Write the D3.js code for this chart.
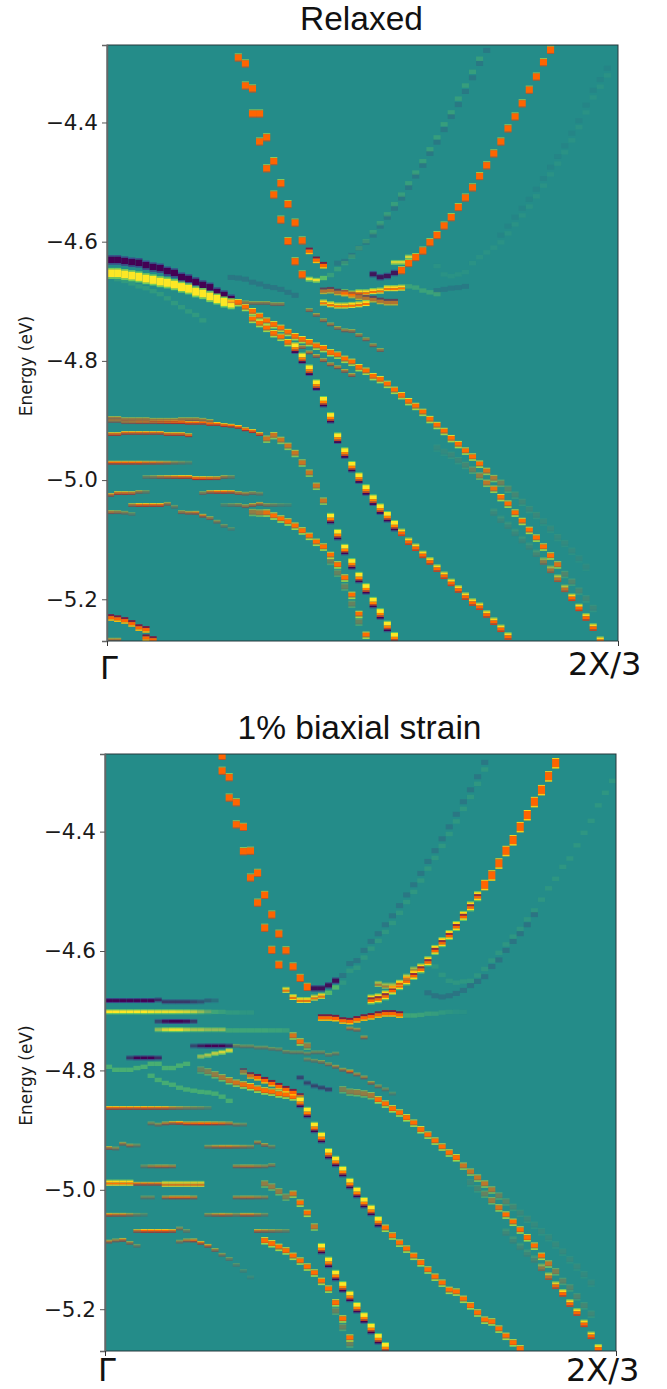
<!DOCTYPE html>
<html><head><meta charset="utf-8">
<script src="https://cdn.jsdelivr.net/npm/d3@7"></script>
<style>html,body{margin:0;padding:0;background:#fff;overflow:hidden}</style>
</head><body><svg id="fig" width="667" height="1389"></svg>
<script>
// ---- labels ----
const titles = ["Relaxed", "1% biaxial strain"];
const yTickValues = [-4.4, -4.6, -4.8, -5.0, -5.2];
const xTickLabels = ["\u0393", "2X/3"];
const energyRange = [-5.27, -4.27];
const columnCount = 72;

// ---- Relaxed panel: energies per k-column (eV) ----
const r01 = [-4.301,-4.343,-4.385,-4.425,-4.465,-4.502,-4.537,-4.568,-4.598];
const r01b = [-4.616,-4.631,-4.640];
const r02 = [-4.291,-4.338,-4.385,-4.432,-4.477,-4.521,-4.563,-4.599,-4.633,-4.655];
const r02y = [-4.663,-4.665];
const r02g = [-4.661,-4.656,-4.646,-4.636,-4.625,-4.611,-4.599,-4.584,-4.569,-4.554,-4.537,-4.521,-4.502,-4.484,-4.465,-4.445,-4.425,-4.403,-4.383,-4.360,-4.338,-4.315,-4.293];
const r03 = [-4.636,-4.633,-4.623,-4.611,-4.601,-4.589,-4.574,-4.559,-4.544,-4.527,-4.509,-4.490,-4.472,-4.452,-4.433,-4.412,-4.390,-4.370,-4.348,-4.325,-4.301,-4.279];
const r04 = [-4.648,-4.636,-4.626,-4.615,-4.601,-4.589,-4.573,-4.559,-4.542,-4.526,-4.509,-4.490,-4.472,-4.452,-4.432,-4.410,-4.390,-4.368,-4.345,-4.323,-4.299,-4.278];
const r04p = [-4.655,-4.660,-4.658,-4.653];
const r04u = [-4.635,-4.635,-4.626];
const r05 = [-4.685,-4.687,-4.685,-4.685,-4.683,-4.682,-4.678,-4.678,-4.677];
const r05g = [-4.675,-4.677,-4.682,-4.685,-4.688];
const r05d = [-4.683,-4.682,-4.685,-4.687,-4.690,-4.693,-4.695,-4.697,-4.700,-4.702,-4.702];
const r06 = [-4.702,-4.705,-4.707,-4.707,-4.706,-4.705,-4.703];
const r07p = [-4.631,-4.631,-4.633,-4.635,-4.636,-4.640,-4.643,-4.645,-4.650,-4.653,-4.660,-4.663,-4.668,-4.673,-4.677,-4.685,-4.690,-4.697];
const r07y = [-4.654,-4.654,-4.656,-4.658,-4.660,-4.663,-4.665,-4.668,-4.670,-4.673,-4.677,-4.680,-4.685,-4.688,-4.693,-4.697,-4.702,-4.705];
const r08 = [-4.702,-4.710,-4.717,-4.725,-4.733,-4.739,-4.745,-4.752,-4.759,-4.764,-4.769,-4.775,-4.779,-4.786,-4.790,-4.797,-4.802,-4.811,-4.817,-4.826,-4.831,-4.839,-4.849,-4.858,-4.868,-4.876,-4.886,-4.898,-4.908,-4.918,-4.930,-4.940,-4.951,-4.961,-4.973,-4.985,-4.997,-5.005,-5.015,-5.025,-5.037,-5.049,-5.059,-5.070,-5.082,-5.096,-5.106,-5.119,-5.132,-5.146];
const r09a = [-4.730,-4.737,-4.745,-4.754,-4.760,-4.769];
const r09b = [-4.779,-4.796,-4.816,-4.841,-4.869,-4.896,-4.930,-4.955,-4.978,-4.997,-5.017,-5.034,-5.049,-5.062,-5.077];
const r09c = [-5.089,-5.104,-5.114,-5.126,-5.137,-5.149,-5.161,-5.173,-5.184,-5.196,-5.206,-5.213,-5.226,-5.238,-5.250,-5.263];
const r10 = [-4.772,-4.777,-4.786,-4.792,-4.799,-4.806,-4.811,-4.817,-4.824];
const r11 = [-4.715,-4.723,-4.732,-4.739,-4.745,-4.749,-4.750,-4.757,-4.764,-4.774,-4.782];
const r12 = [-4.700,-4.702,-4.702,-4.703,-4.703,-4.703,-4.705,-4.705];
const r13 = [-4.660,-4.661,-4.663,-4.668,-4.671,-4.675,-4.677,-4.680,-4.685,-4.690];
const r14 = [-4.663,-4.666,-4.670,-4.675,-4.678,-4.683,-4.688,-4.695,-4.703,-4.710,-4.717,-4.723,-4.732];
const r15 = [-4.901,-4.901,-4.903,-4.903,-4.903,-4.903,-4.903,-4.903,-4.903,-4.903,-4.903,-4.904,-4.904,-4.904,-4.906,-4.906,-4.908,-4.909,-4.911,-4.915,-4.918,-4.923];
const r15b = [-4.931,-4.925,-4.933,-4.943,-4.955,-4.971,-4.988,-5.010,-5.035];
const r15c = [-5.065,-5.092,-5.117,-5.141,-5.164,-5.183,-5.206,-5.225,-5.246,-5.265];
const r16 = [-4.923,-4.923,-4.921,-4.921,-4.921,-4.921,-4.921,-4.921,-4.923,-4.923,-4.923,-4.925];
const r17 = [-4.896,-4.896,-4.898,-4.898,-4.898,-4.898,-4.899,-4.899,-4.899,-4.899,-4.898,-4.898,-4.898,-4.899,-4.901];
const r18 = [-4.971,-4.971,-4.971,-4.971,-4.971,-4.971,-4.971,-4.971,-4.971,-4.971,-4.971,-4.971];
const r19 = [-4.995,-4.995,-4.995,-4.995,-4.995,-4.995,-4.995,-4.997,-4.997,-4.997,-4.997,-4.995,-4.995];
const r20 = [-5.025,-5.022,-5.022,-5.022,-5.020,-5.020];
const r20b = [-5.022,-5.020,-5.020,-5.020,-5.020,-5.022,-5.023,-5.022,-5.023];
const r21 = [-5.042,-5.042,-5.042,-5.042,-5.042,-5.040,-5.045];
const r21b = [-5.042,-5.042,-5.042,-5.044,-5.042,-5.040,-5.042,-5.042,-5.042,-5.042];
const r22 = [-5.054,-5.054,-5.055,-5.057];
const r22b = [-5.054,-5.055,-5.055,-5.060,-5.064,-5.070,-5.077,-5.082];
const r23 = [-5.054,-5.055,-5.055,-5.060,-5.065,-5.070,-5.077,-5.085,-5.094,-5.104,-5.112,-5.126,-5.142,-5.164,-5.193,-5.225,-5.260];
const r23g = [-5.136,-5.156,-5.179,-5.208,-5.238];
const r24 = [-5.231,-5.233,-5.236,-5.241,-5.248,-5.251];
const r24b = [-5.265,-5.268];
const r24c = [-5.268,-5.268];
const r25 = [-4.641,-4.655,-4.658,-4.655,-4.651,-4.636,-4.626,-4.618,-4.610,-4.601,-4.586,-4.571,-4.556,-4.541,-4.524,-4.506,-4.487,-4.469,-4.450,-4.430,-4.408,-4.383,-4.358,-4.340,-4.321];
const r26a = [-4.682,-4.680,-4.678,-4.677,-4.675];
const r26b = [-4.589,-4.574,-4.559,-4.544,-4.529,-4.512,-4.494,-4.475,-4.457,-4.439,-4.418,-4.397,-4.371,-4.346,-4.328,-4.309];
const r27 = [-4.946,-4.953,-4.958,-4.967,-4.975,-4.983,-4.993,-5.005,-5.015,-5.029,-5.040,-5.055,-5.069,-5.084,-5.097,-5.112,-5.127,-5.142,-5.158,-5.171,-5.186,-5.199,-5.215];
const r28 = [-5.055,-5.067,-5.077,-5.089,-5.101,-5.112,-5.124,-5.137,-5.151,-5.166,-5.183,-5.198,-5.215,-5.231,-5.248,-5.270];

// ---- Strained panel: energies per k-column (eV) ----
const s01 = [-4.273,-4.309,-4.351,-4.392,-4.432,-4.469,-4.506,-4.539,-4.571,-4.599,-4.626,-4.645,-4.660];
const s01p = [-4.663,-4.663,-4.658,-4.650];
const s02 = [-4.298,-4.343,-4.388,-4.433,-4.477,-4.519,-4.561,-4.598,-4.623];
const s02y = [-4.665,-4.677,-4.682,-4.682,-4.678,-4.675];
const s02g = [-4.670,-4.661];
const s03p = [-4.641,-4.621,-4.616,-4.599,-4.584,-4.571,-4.556,-4.541,-4.524,-4.506,-4.489,-4.470,-4.450,-4.432,-4.412,-4.392,-4.371,-4.350,-4.330,-4.308,-4.284];
const s03g = [-4.653,-4.633,-4.628,-4.611,-4.596,-4.583,-4.568,-4.553,-4.536,-4.518,-4.501,-4.482,-4.462,-4.444,-4.424,-4.404,-4.383,-4.362,-4.342,-4.320,-4.296];
const s04a = [-4.682,-4.680,-4.675,-4.666,-4.658,-4.650,-4.641,-4.630,-4.618,-4.599,-4.586,-4.574,-4.559,-4.542,-4.526,-4.509];
const s04b = [-4.490,-4.474,-4.454,-4.433,-4.415,-4.393,-4.373,-4.351,-4.331,-4.308,-4.286];
const s04u = [-4.655,-4.658,-4.658,-4.653,-4.643,-4.631];
const s05 = [-4.626,-4.640,-4.650,-4.653,-4.651,-4.650,-4.641,-4.630,-4.616,-4.603,-4.589,-4.576,-4.563,-4.547,-4.532,-4.514,-4.495,-4.479,-4.459,-4.445,-4.423,-4.402,-4.382,-4.356,-4.335,-4.315];
const s06 = [-4.670,-4.675,-4.677,-4.675,-4.671,-4.666,-4.658,-4.651,-4.643,-4.626,-4.615,-4.599,-4.584,-4.571,-4.556,-4.539];
const s07 = [-4.683,-4.683,-4.683,-4.683,-4.683,-4.683,-4.683,-4.682,-4.685,-4.685,-4.685,-4.685,-4.685,-4.685,-4.683,-4.683];
const s08 = [-4.702,-4.702,-4.702,-4.702,-4.702,-4.702,-4.702,-4.702,-4.702,-4.702,-4.702,-4.702,-4.702,-4.702,-4.702];
const s08g = [-4.702,-4.702,-4.703,-4.703,-4.703,-4.703];
const s09 = [-4.718,-4.718,-4.718,-4.718,-4.718,-4.718];
const s10 = [-4.732,-4.732,-4.732,-4.732,-4.732,-4.732,-4.732,-4.732,-4.732,-4.732];
const s10g = [-4.733,-4.733,-4.733,-4.733,-4.733,-4.733,-4.733,-4.733,-4.733];
const s11 = [-4.759,-4.759,-4.759,-4.759,-4.759,-4.759];
const s12 = [-4.777,-4.775,-4.772,-4.770,-4.767];
const s13 = [-4.779,-4.779,-4.779,-4.779,-4.779];
const s14 = [-4.794,-4.799,-4.799,-4.799,-4.796,-4.794,-4.789,-4.789,-4.796,-4.796,-4.792,-4.789];
const s15 = [-4.809,-4.816,-4.821,-4.824,-4.829,-4.832,-4.834,-4.836,-4.837,-4.839,-4.844,-4.851];
const s16 = [-4.799,-4.802,-4.807,-4.812,-4.817,-4.821,-4.824,-4.827,-4.831,-4.834,-4.836,-4.839,-4.841,-4.844];
const s17 = [-4.802,-4.809,-4.812,-4.817,-4.822,-4.827,-4.832,-4.837,-4.844];
const s18a = [-4.854,-4.871,-4.896,-4.913,-4.940,-4.953,-4.970,-4.990,-5.005,-5.022,-5.035,-5.054];
const s18b = [-5.064,-5.077,-5.089,-5.099,-5.111,-5.122,-5.134,-5.146,-5.156,-5.168,-5.171,-5.183,-5.194,-5.206,-5.218,-5.221,-5.233,-5.245,-5.256,-5.266];
const s19 = [-4.832,-4.836,-4.837,-4.839,-4.842,-4.849,-4.856,-4.864,-4.871,-4.879,-4.888,-4.899,-4.908,-4.918,-4.928,-4.938,-4.946,-4.960,-4.970,-4.980,-4.990,-5.000,-5.010,-5.020,-5.029,-5.039,-5.049,-5.059,-5.070,-5.080,-5.092,-5.104,-5.117,-5.129,-5.142,-5.156];
const s20 = [-4.782,-4.784,-4.786,-4.790,-4.794,-4.799,-4.802,-4.807,-4.812,-4.821,-4.827,-4.832,-4.839];
const s21 = [-4.742,-4.752,-4.759];
const s22 = [-4.988,-4.998,-5.007,-5.018,-5.030,-5.042,-5.054,-5.067,-5.080,-5.094,-5.111,-5.124,-5.137,-5.153,-5.164,-5.179,-5.194,-5.208];
const s23 = [-5.072,-5.085,-5.096,-5.107,-5.117,-5.131,-5.146,-5.161,-5.174,-5.191,-5.206,-5.225,-5.245,-5.266];
const s24 = [-5.099,-5.122,-5.144,-5.163,-5.179,-5.198,-5.215,-5.233,-5.250,-5.265];
const s24b = [-4.990,-4.995,-5.003,-5.012,-5.007,-5.022,-5.039,-5.062];
const s25 = [-5.085,-5.090,-5.096,-5.102,-5.111,-5.119,-5.129,-5.139,-5.153,-5.166,-5.189,-5.216,-5.248];
const s25g = [-5.203,-5.230,-5.258];
const s26 = [-4.863,-4.863,-4.863,-4.863,-4.863,-4.863,-4.863,-4.863,-4.863,-4.863,-4.863,-4.863,-4.863,-4.863,-4.863];
const s27 = [-4.889,-4.891,-4.889,-4.888,-4.888,-4.889,-4.889,-4.889,-4.889,-4.889,-4.889,-4.889,-4.891,-4.891];
const s28 = [-4.930,-4.931,-4.923,-4.926,-4.926];
const s28b = [-4.928,-4.928,-4.928,-4.928,-4.928,-4.928,-4.928,-4.921,-4.925,-4.928];
const s29 = [-4.961,-4.961,-4.961,-4.961,-4.961];
const s29b = [-4.961,-4.961,-4.961,-4.961,-4.961,-4.959];
const s30 = [-4.988,-4.988,-4.988,-4.988];
const s30b = [-4.990,-4.990,-4.990,-4.990];
const s30c = [-4.990,-4.990,-4.990,-4.990,-4.990,-4.990];
const s31 = [-5.013,-5.013];
const s31b = [-5.013,-5.013,-5.013,-5.013,-5.013];
const s31c = [-5.013,-5.013,-5.013,-5.013,-5.013];
const s32 = [-5.042,-5.042,-5.042,-5.042,-5.042,-5.042];
const s32b = [-5.042,-5.042,-5.042,-5.042,-5.042,-5.042,-5.042,-5.042,-5.042];
const s33 = [-5.069,-5.069,-5.069,-5.069,-5.069,-5.069,-5.065,-5.069];
const s33b = [-5.069,-5.069,-5.069,-5.069,-5.069];
const s34 = [-5.087,-5.085,-5.084,-5.089,-5.094];
const s34b = [-5.087,-5.085,-5.085,-5.089,-5.094,-5.101,-5.109,-5.116,-5.126,-5.136,-5.147];
const s35 = [-4.712,-4.712,-4.713,-4.717,-4.718,-4.715,-4.712,-4.710,-4.707,-4.705,-4.705,-4.707];
const s35g = [-4.708,-4.708,-4.707,-4.705,-4.705,-4.703,-4.702,-4.702,-4.702];
const s36 = [-4.759,-4.760,-4.760,-4.762,-4.762,-4.764,-4.765,-4.769,-4.770,-4.770,-4.772,-4.770,-4.770,-4.774,-4.772];
const s37 = [-4.812,-4.821,-4.826,-4.829,-4.832];
const s38 = [-4.730,-4.732,-4.745];

// ---- intensity along some bands ----
const r15amp = [.5,.5,.55,.6,.7,.7,.7,.8,.9,.95,1,1,1,1,1,1,1,1,1,1,1,.9];
const r08amp = [1,1,1,1,1,1,1,1,1,1,1,1,1,1,1,1,1,1,1,1,1,1,1,1,1,1,1,1,1,1,1,1,1,1,1,.8,.6,.35,.22,.15,.12,.1,.1,.08,.08,.08,.07,.07,.06,.06];
const r19amp = [.3,.4,.6,.7,.8,.9,.9,1,1,.9,.8,.5,.3];
const r27amp = [.07,.07,.1,.1,.15,.3,.5,.7,.9,1,1,1,1,1,1,1,1,.8,.2,.2,.15,.12,.1];
const r28amp = [.1,.1,.1,.1,.1,.1,.15,.45,.55,.7,.7,1,1,1,1,1];
const s19amp = [.4,.45,.5,.5,.6,1,1,1,1,1,1,1,1,1,1,1,1,.75,.7,.7,.7,.6,.3,.22,.15,.1,.1,.08,.08,.08,.08,.08,.08,.08,.07,.07];
const s23amp = [.12,.12,.12,.12,.15,.45,.7,.9,1,1,1,1,1,1];
const s22amp = [.1,.15,.3,.5,.8,1,1,1,1,1,1,.7,.4,.25,.2,.18,.15,.12];

// ---- bands: [first column, energies, look, intensity] ----
const relaxedBands = [
  [32,r03,"fp",.2],[31,r02g.slice(1),"g",.28],[30,r02g.slice(0,1),"g",.8],[46,r25,"g",.1],[46,r26a,"fp",.18],[55,r26b,"fp",.07],
  [17,r13,"fp",.22],[1,r14,"g",.2],
  [0,r07p,"P",1],[0,r07y,"Y",1],
  [28,r11,"t",.5],[26,r10,"t",.6],[17,r12,"t",.45],
  [18,r08,"s",r08amp],[20,r09a,"s",1],[26,r09b,"y",1],[41,r09c,"y2",1],
  [19,r01,"o",1],[28,r01b,"td",1],[18,r02,"o",1],[28,r02y,"Yt",.9],
  [37,r04p,"p",.85],[41,r04,"o",1],[40,r04u,"Yt",.8],
  [33,r05,"Yo",1],[42,r05g,"g",.35],[30,r05d,"td",.65],[30,r06,"Yo",1],
  [0,r15,"t",r15amp],[22,r15b,"s",.75],[31,r15c,"y",1],[0,r16,"t",.85],[0,r17,"t",.55],
  [0,r18,"t",[.95,.95,.95,.95,.95,.8,.8,.7,.6,.4,.3,.2]],[5,r19,"t",r19amp],
  [0,r20,"t",[.7,.8,.8,.7,.5,.3]],[13,r20b,"t",[.4,.7,.9,.9,.8,.6,.5,.4,.3]],
  [3,r21,"t",[.6,.9,.9,.9,.9,.5,.3]],[16,r21b,"t",[.2,.3,.4,.5,.6,.6,.4,.3,.2,.15]],
  [0,r22,"t",[.6,.5,.4,.25]],[10,r22b,"t",[.5,.6,.7,.7,.5,.4,.3,.2]],
  [20,r23,"s",[.5,.6,.9,1,1,1,1,1,1,1,1,1,1,1,1,1,1]],[31,r23g,"s",.3],
  [0,r24,"td",1],[5,r24b,"td",1],[0,r24c,"t",.6],
  [46,r27,"s",r27amp],[54,r28,"y2",r28amp]
];
const strainedBands = [
  [33,s03p,"fp",.22],[33,s03g,"g",.18],[46,s05,"g",.16],[45,s06,"fp",.25],
  [16,s01,"o",1],[29,s01p,"p",.9],[16,s02,"o",1],[25,s02y,"Yo",.9],[31,s02g,"g",.7],
  [37,s04a,"d",1],[53,s04b,"B",1],[38,s04u,"Yo",.6],
  [0,s07,"pt",[1,1,1,1,1,1,1,.7,.6,.6,.6,.6,.5,.4,.3,.2]],[0,s08,"Yt",[1,1,1,1,1,1,.95,.9,.9,.9,.85,.8,.7,.5,.3]],[15,s08g,"g",[.4,.3,.2,.2,.15,.15]],
  [7,s09,"pt",[.5,.9,1,1,.9,.6]],[7,s10,"Yt",[.5,.8,.9,.9,.7,.6,.6,.5,.5,.5]],[17,s10g,"g",[.4,.4,.4,.4,.4,.4,.35,.35,.3]],
  [12,s11,"pt",[.5,.8,1,1,1,.7]],[13,s12,"Yt",[.5,.6,.7,.8,.8]],[3,s13,"pt",[.6,1,1,1,.7]],
  [0,s14,"g",.55],[6,s15,"g",.5],[13,s16,"s",[.3,.4,.5,.6,.7,.8,.9,1,1,1,1,1,1,1]],[19,s17,"td",[.5,.8,1,1,1,1,1,1,.8]],
  [27,s37,"pt",.5],[18,s36,"t",.3],[34,s38,"t",.5],
  [27,s18a,"y",1],[39,s18b,"s",1],[33,s19,"s",s19amp],[28,s20,"t",[.3,.3,.4,.4,.5,.5,.8,.5,.5,.5,.4,.3,.2]],[26,s21,"s",[.8,.9,.5]],
  [51,s22,"s",s22amp],[56,s23,"y2",s23amp],
  [30,s24,"y",1],[22,s24b,"s",[.5,.5,.5,.4,.8,1,1,.7]],[22,s25,"s",1],[32,s25g,"s",.3],
  [0,s26,"t",[.9,.9,.9,.9,.9,.9,.85,.85,.8,.6,.5,.4,.35,.3,.2]],[6,s27,"t",[.35,.4,.6,.7,.9,.9,.9,1,1,.9,.8,.6,.4,.3]],
  [0,s28,"t",[.6,.4,.5,.5,.3]],[14,s28b,"t",[.4,.6,.7,.7,.6,.5,.4,.5,.5,.3]],
  [5,s29,"t",[.3,.5,.6,.6,.5]],[18,s29b,"t",[.5,.6,.6,.5,.4,.4]],
  [0,s30,"Yo",1],[4,s30b,"t",.8],[8,s30c,"Yo",.8],
  [5,s31,"t",.3],[8,s31b,"t",[.6,.8,.8,.8,.6]],[18,s31c,"t",[.5,.6,.6,.5,.4]],
  [0,s32,"t",[.8,.7,.7,.5,.3,.2]],[14,s32b,"t",[.4,.6,.7,.6,.4,.7,.7,.5,.3]],
  [4,s33,"t",[.7,1,1,1,1,.8,.4,.3]],[21,s33b,"t",[.7,.6,.5,.4,.3]],
  [0,s34,"t",[.6,.5,.7,.5,.3]],[10,s34b,"t",[.4,.6,.8,.8,.7,.5,.4,.3,.2,.15,.1]],
  [30,s35,"td",1],[42,s35g,"g",[.4,.4,.35,.3,.25,.2,.15,.1,.08]]
];

// ---- rendering ----
const valueColor = d3.scaleLinear()
  .domain([-1,-.5,0,.4,.78,1,1.25,1.5,1.8])
  .range(["#440154","#3b4a8a","#248c89","#5ec962","#fde725","#ffb000","#ff6400","#b8382a","#5a1050"]);
const looks = {
  o:[[-4,-3.2,.6],[-3.2,3.2,1.25],[3.2,4,1.4]],
  B:[[-5.5,-4.5,.85],[-4.5,3.5,1.25],[3.5,5,.9]],
  s:[[-3.4,-2.4,.7],[-2.4,1.4,1.22],[1.4,2.4,1.3],[2.4,4,.55]],
  t:[[-2,-1.1,.85],[-1.1,.6,1.25],[.6,1.8,1.55]],
  td:[[-3.6,-1.6,1.7],[-1.6,1.6,1.25],[1.6,3,.95]],
  y:[[-6,-5,.4],[-5,-1.2,.78],[-1.2,1.2,1.15],[1.2,2.8,1.45],[2.8,4.6,-1],[4.6,5.6,-.4]],
  y2:[[-4.5,-3.5,.5],[-3.5,-1.5,.85],[-1.5,1.5,1.25],[1.5,3,1.45]],
  d:[[-5.5,-4.5,.45],[-4.5,-2.5,.85],[-2.5,-.5,1.6],[-.5,2,1.25],[2,3.5,.85],[3.5,4.5,.42]],
  Yo:[[-3,-2,.5],[-2,0,.85],[0,2,1.2],[2,3,.8]],
  Y:[[-6,-4.5,.45],[-4.5,3.5,.78],[3.5,5,.45]],
  Yt:[[-2.6,-1.6,.45],[-1.6,1.2,.78],[1.2,2.4,.45]],
  P:[[-5,-3.5,-.5],[-3.5,3,-1],[3,4.5,-.5]],
  p:[[-3.5,-2.3,-.5],[-2.3,2,-1],[2,3,-.5]],
  pt:[[-2.5,-1.4,-.55],[-1.4,1.4,-1],[1.4,2.5,-.55]],
  fp:[[-2.5,2.5,-.7]],
  g:[[-2.2,2.2,.42]]
};
const panels = [
  {title:titles[0], bands:relaxedBands, x0:107, x1:618, y0:45, y1:641, xBase:675, gBase:679},
  {title:titles[1], bands:strainedBands, x0:105, x1:616, y0:754, y1:1351, xBase:1381, gBase:1381}
];
const svg = d3.select("#fig");
const defs = svg.append("defs");
const FONT = "'DejaVu Sans',sans-serif";

panels.forEach((p, i) => {
  const x = d3.scaleLinear().domain([0, columnCount]).range([p.x0, p.x1]);
  const y = d3.scaleLinear().domain([energyRange[1], energyRange[0]]).range([p.y0, p.y1]);
  const g = svg.append("g");
  defs.append("clipPath").attr("id","clip"+i).append("rect")
    .attr("x",p.x0).attr("y",p.y0).attr("width",p.x1-p.x0).attr("height",p.y1-p.y0);

  g.append("rect").attr("x",p.x0).attr("y",p.y0).attr("width",p.x1-p.x0).attr("height",p.y1-p.y0)
    .attr("fill",valueColor(0));

  const cells = p.bands.flatMap(([start, energies, look, amp]) =>
    energies.flatMap((e, k) => looks[look].map(s => ({
      col:start+k, e, top:s[0], bottom:s[1], v:s[2],
      a:Array.isArray(amp) ? amp[k] : amp
    }))));
  g.append("g").attr("clip-path",`url(#clip${i})`)
   .append("g").style("filter","blur(0.7px)")
    .selectAll("rect").data(cells).join("rect")
    .attr("x",d=>x(d.col)).attr("width",d=>x(d.col+1)-x(d.col))
    .attr("y",d=>y(d.e)+d.top).attr("height",d=>d.bottom-d.top)
    .attr("fill",d=>valueColor(d.v)).attr("fill-opacity",d=>d.a);

  // frame
  g.append("rect").attr("x",p.x0).attr("y",p.y0).attr("width",p.x1-p.x0).attr("height",p.y1-p.y0)
    .attr("fill","none").attr("stroke","#26393d").attr("stroke-width",1);

  // axes
  const ay = g.append("g").attr("transform",`translate(${p.x0},0)`)
    .call(d3.axisLeft(y).tickValues(yTickValues).tickSize(5).tickPadding(4).tickFormat(d3.format(".1f")));
  ay.select(".domain").attr("stroke","#666").attr("stroke-width",1.5);
  ay.selectAll(".tick line").attr("stroke","#555");
  ay.selectAll("text").attr("font-family",FONT).attr("font-size",21.5).attr("fill","#1a1a1a");

  const ax = g.append("g").attr("transform",`translate(0,${p.y1})`)
    .call(d3.axisBottom(x).tickValues([0,columnCount]).tickSize(5).tickFormat(()=>""));
  ax.select(".domain").remove();
  ax.selectAll(".tick line").attr("stroke","#333");

  const lab = g.append("g").attr("font-family",FONT).attr("font-size",32).attr("fill","#111");
  lab.append("text").attr("x",p.x0-7).attr("y",p.gBase).text(xTickLabels[0]);
  lab.append("text").attr("x",p.x1-50).attr("y",p.xBase).text(xTickLabels[1]);

  g.append("text").attr("transform",`translate(32,${(p.y0+p.y1)/2+23}) rotate(-90)`)
    .attr("text-anchor","middle").attr("font-family",FONT).attr("font-size",17).attr("fill","#1a1a1a").text("Energy (eV)");

  g.append("text").attr("x",(p.x0+p.x1)/2-1).attr("y",p.y0-15).attr("text-anchor","middle")
    .attr("font-family","'Liberation Sans',Arial,sans-serif").attr("font-size",33.5).attr("fill","#111").text(p.title);
});
</script></body></html>
